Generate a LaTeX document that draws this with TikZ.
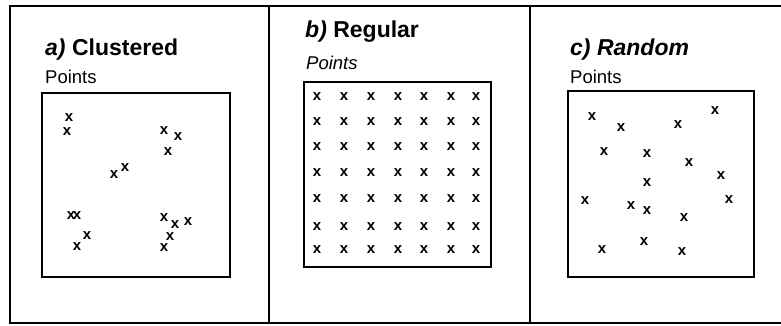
\documentclass[tikz,border=0pt]{standalone}
\usepackage{fontspec}
\setmainfont{Liberation Sans}
\usetikzlibrary{positioning}

\begin{document}
\begin{tikzpicture}[
  x=1pt, y=-1pt,
  frame/.style={line width=2pt, black},
  field/.style={draw, line width=1.4pt},
  title/.style={anchor=base west, inner sep=0pt, font=\fontsize{23}{26}\selectfont\bfseries},
  lbl/.style={anchor=base west, inner sep=0pt, font=\fontsize{18.5}{22}\selectfont},
  pt/.style={inner sep=0pt, font=\fontsize{15}{16}\selectfont\bfseries},
]
  \useasboundingbox (0,0) rectangle (781,325);

  % -------- outer frame --------
  \draw[frame] (781,6) -- (10,6) -- (10,323) -- (781,323);
  \draw[frame] (269,6) -- (269,323);
  \draw[frame] (530,6) -- (530,323);

  % -------- a) clustered --------
  \node[title] (Ta) at (45,55) {\textit{a)} Clustered};
  \node[lbl] (La) at (45,83) {Points};
  \draw[field] (42,93) rectangle (230,277);
  \foreach \px/\py [count=\i] in {69/118, 67/132, 114/175, 125/168,
      164/131, 178/137, 168/152, 71/216, 77/216, 87/236, 77/247,
      164/218, 175/225, 188/222, 170/237, 164/248}
    \node[pt] (a\i) at (\px,\py) {x};

  % -------- b) regular --------
  \node[title] (Tb) at (305,37) {\textit{b)} Regular};
  \node[lbl, font=\fontsize{18.5}{22}\selectfont\itshape] (Lb) at (306,69) {Points};
  \draw[field] (304,82) rectangle (491,267);
  \foreach \px [count=\i] in {317,344,371,398,424,451,476}
    \foreach \py [count=\j] in {97,122,147,173,199,227,250}
      \node[pt] (b\i\j) at (\px,\py) {x};

  % -------- c) random --------
  \node[title, font=\fontsize{23}{26}\selectfont\bfseries\itshape] (Tc) at (570,55) {c) Random};
  \node[lbl] (Lc) at (570,83) {Points};
  \draw[field] (568,91) rectangle (754,277);
  \foreach \px/\py [count=\i] in {592/117, 621/128, 678/125, 715/111,
      604/152, 647/154, 689/163, 721/176, 647/183, 585/201, 631/206,
      647/211, 729/200, 684/218, 644/242, 602/250, 682/252}
    \node[pt] (c\i) at (\px,\py) {x};
\end{tikzpicture}
\end{document}
